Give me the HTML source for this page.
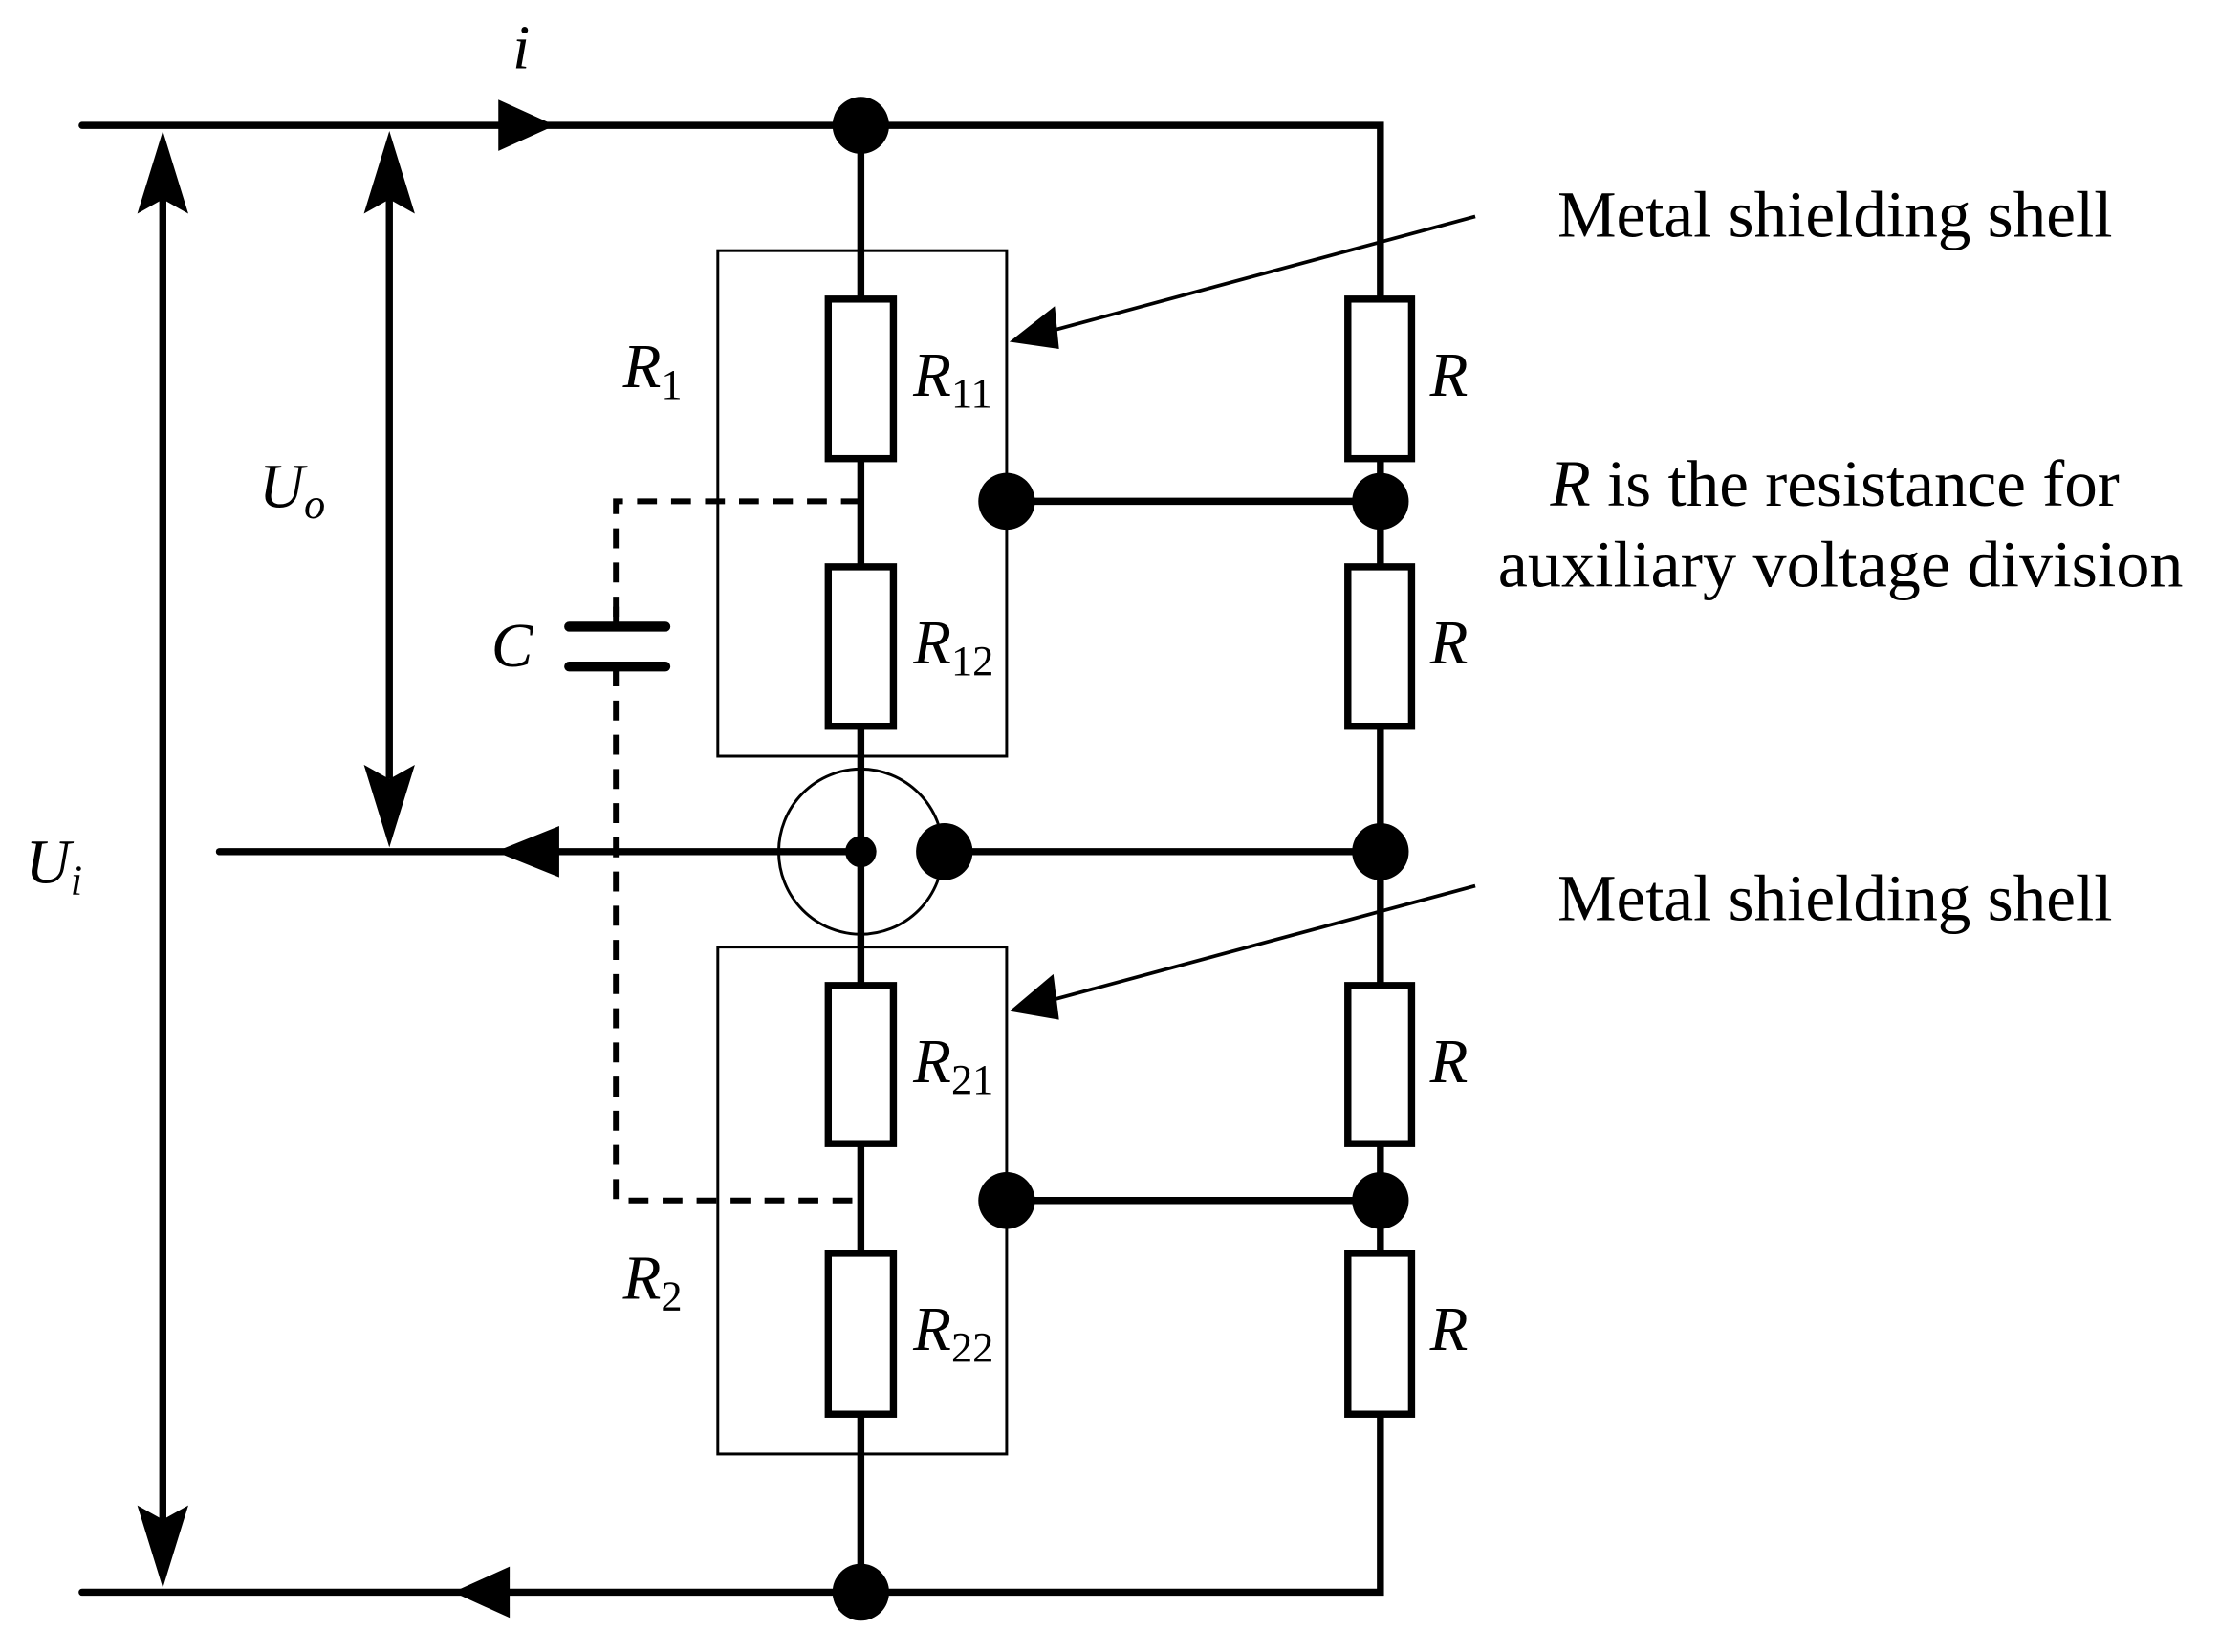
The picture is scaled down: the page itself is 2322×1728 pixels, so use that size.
<!DOCTYPE html>
<html><head><style>html,body{margin:0;padding:0;background:#fff}svg{display:block}</style></head>
<body>
<svg width="2322" height="1728" viewBox="0 0 1568 1160" preserveAspectRatio="none" xmlns="http://www.w3.org/2000/svg">
<g stroke="#000" stroke-width="5" fill="none" stroke-linecap="round">
<path d="M58,88 H975 V1118 H58"/>
<path d="M608,88 V1118"/>
<path d="M155,598 H610"/>
<path d="M667,598 H975 M711,352 H975 M711,843 H975"/>
</g>
<g fill="#000">
<path d="M352,70 L392,88 L352,106 Z"/>
<path d="M395,580 L350,598 L395,616 Z"/>
<path d="M360,1100 L320,1118 L360,1136 Z"/>
<path d="M115,92 L97,150 L115,140 L133,150 Z"/>
<path d="M115,1115 L97,1057 L115,1067 L133,1057 Z"/>
<path d="M275,92 L257,150 L275,140 L293,150 Z"/>
<path d="M275,595 L257,537 L275,547 L293,537 Z"/>
</g>
<g stroke="#000" stroke-width="5"><path d="M115,140 V1067 M275,140 V547"/></g>
<g stroke="#000" stroke-width="2" fill="none">
<rect x="507" y="176" width="204" height="355"/>
<rect x="507" y="665" width="204" height="356"/>
<ellipse cx="608" cy="598" rx="58" ry="58"/>
</g>
<g stroke="#000" stroke-width="5" fill="#fff">
<rect x="585" y="210" width="46" height="112"/>
<rect x="585" y="398" width="46" height="112"/>
<rect x="585" y="692" width="46" height="111"/>
<rect x="585" y="880" width="46" height="113"/>
<rect x="952" y="210" width="45" height="112"/>
<rect x="952" y="398" width="45" height="112"/>
<rect x="952" y="692" width="45" height="111"/>
<rect x="952" y="880" width="45" height="113"/>
</g>
<g fill="#000">
<circle cx="608" cy="88" r="20"/><circle cx="608" cy="1118" r="20"/>
<circle cx="608" cy="598" r="11"/><circle cx="667" cy="598" r="20"/>
<circle cx="975" cy="598" r="20"/><circle cx="975" cy="352" r="20"/><circle cx="975" cy="843" r="20"/>
<circle cx="711" cy="352" r="20"/><circle cx="711" cy="843" r="20"/>
</g>
<g stroke="#000" stroke-width="4" fill="none" stroke-dasharray="14,10">
<path d="M608,352 H435 V440"/>
<path d="M435,468 V843 H608"/>
</g>
<g stroke="#000" stroke-width="7" stroke-linecap="round"><path d="M402,440 H470 M402,468 H470"/></g>
<g stroke="#000" stroke-width="4"><path d="M435,426 V440 M435,468 V482"/></g>
<g stroke="#000" stroke-width="2.5">
<path d="M1042,152 L740,233"/>
<path d="M1042,622 L740,703"/>
</g>
<g fill="#000"><path d="M713,240 L745,215 L748,245 Z"/><path d="M713,710 L744,684 L748,716 Z"/></g>
<g font-family="Liberation Serif, serif" font-size="44" fill="#000">
<text x="362" y="48" font-style="italic">i</text>
<text x="18" y="620" font-style="italic">U<tspan font-size="30" dy="8">i</tspan></text>
<text x="183" y="356" font-style="italic">U<tspan font-size="30" dy="8">o</tspan></text>
<text x="440" y="272" font-style="italic">R<tspan font-style="normal" font-size="30" dy="8">1</tspan></text>
<text x="440" y="912" font-style="italic">R<tspan font-style="normal" font-size="30" dy="8">2</tspan></text>
<text x="645" y="278" font-style="italic">R<tspan font-style="normal" font-size="30" dy="8">11</tspan></text>
<text x="645" y="466" font-style="italic">R<tspan font-style="normal" font-size="30" dy="8">12</tspan></text>
<text x="645" y="760" font-style="italic">R<tspan font-style="normal" font-size="30" dy="8">21</tspan></text>
<text x="645" y="948" font-style="italic">R<tspan font-style="normal" font-size="30" dy="8">22</tspan></text>
<text x="347" y="468" font-style="italic">C</text>
<text x="1010" y="278" font-style="italic">R</text>
<text x="1010" y="466" font-style="italic">R</text>
<text x="1010" y="760" font-style="italic">R</text>
<text x="1010" y="948" font-style="italic">R</text>
</g>
<g font-family="Liberation Serif, serif" font-size="46" fill="#000">
<text x="1100" y="166" textLength="392" lengthAdjust="spacingAndGlyphs">Metal shielding shell</text>
<text x="1095" y="355" textLength="402" lengthAdjust="spacingAndGlyphs"><tspan font-style="italic">R</tspan> is the resistance for</text>
<text x="1058" y="412" textLength="484" lengthAdjust="spacingAndGlyphs">auxiliary voltage division</text>
<text x="1100" y="646" textLength="392" lengthAdjust="spacingAndGlyphs">Metal shielding shell</text>
</g>
</svg>
</body></html>
